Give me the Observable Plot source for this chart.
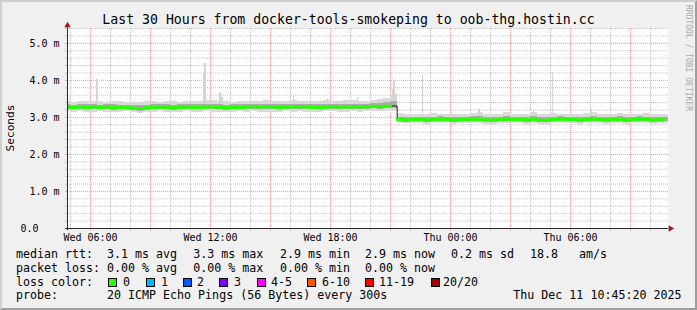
<!DOCTYPE html>
<html><head><meta charset="utf-8">
<script src="https://cdn.jsdelivr.net/npm/d3@7"></script>
<script src="https://cdn.jsdelivr.net/npm/@observablehq/plot@0.6"></script>
<style>
html,body{margin:0;padding:0;background:#f0f0f0;}
#chart{position:relative;width:697px;height:310px;background:#f0f0f0;overflow:hidden;font-family:"DejaVu Sans Mono",monospace;color:#000;}
#chart svg{position:absolute;left:0;top:0;}
.t{position:absolute;white-space:pre;line-height:1;}
.box{position:absolute;width:7px;height:7px;border:1px solid #000;}
#border{position:absolute;left:0;top:0;width:697px;height:310px;box-sizing:border-box;border-style:solid;border-width:2px;border-color:#cfcfcf #9e9e9e #9e9e9e #cfcfcf;pointer-events:none;}
</style></head><body><div id="chart"></div><script>
// ---------- data (ms) ----------
const title = "Last 30 Hours from docker-tools-smokeping to oob-thg.hostin.cc";
const yLabel = "Seconds";
const watermark = "RRDTOOL / TOBI OETIKER";
const seriesStart = "2025-12-10T04:40:00Z"; // samples every 20 minutes
const median = [3.28,
 3.27,3.28,3.27, 3.28,3.27,3.28, 3.26,3.27,3.27, 3.25,3.24,3.26, 3.27,3.28,3.27,
 3.26,3.27,3.28, 3.27,3.27,3.29, 3.28,3.27,3.26, 3.27,3.27,3.28, 3.29,3.28,3.29,
 3.28,3.27,3.28, 3.28,3.29,3.28, 3.27,3.27,3.28, 3.29,3.28,3.28, 3.29,3.28,3.29,
 3.30,3.29,3.30, 3.31,2.94,2.93, 2.94,2.94,2.93, 2.94,2.95,2.94, 2.93,2.94,2.94,
 2.95,2.94,2.93, 2.93,2.94,2.95, 2.94,2.94,2.93, 2.94,2.92,2.93, 2.94,2.95,2.94,
 2.94,2.93,2.94, 2.95,2.94,2.93, 2.94,2.94,2.93, 2.94,2.95,2.94, 2.93,2.94,2.94];
const outerHi = [3.42,
 3.41,3.43,3.42, 3.44,3.42,3.41, 3.43,3.42,3.40, 3.41,3.39,3.42, 3.43,3.41,3.44,
 3.42,3.41,3.43, 3.42,3.44,3.45, 3.46,3.43,3.42, 3.41,3.43,3.42, 3.44,3.43,3.45,
 3.44,3.42,3.43, 3.46,3.44,3.43, 3.42,3.44,3.45, 3.43,3.44,3.46, 3.45,3.43,3.44,
 3.45,3.47,3.50, 3.62,3.10,3.08, 3.09,3.07,3.08, 3.10,3.08,3.07, 3.08,3.09,3.07,
 3.10,3.14,3.08, 3.07,3.09,3.12, 3.08,3.07,3.09, 3.12,3.09,3.08, 3.10,3.08,3.09,
 3.07,3.08,3.10, 3.12,3.09,3.08, 3.09,3.10,3.08, 3.08,3.09,3.10, 3.09,3.08,3.09];
const outerLo = [3.15,
 3.14,3.15,3.13, 3.14,3.15,3.13, 3.14,3.13,3.15, 3.12,3.11,3.13, 3.14,3.15,3.14,
 3.13,3.14,3.15, 3.14,3.13,3.15, 3.14,3.13,3.12, 3.14,3.15,3.14, 3.15,3.14,3.13,
 3.14,3.13,3.15, 3.14,3.15,3.14, 3.13,3.14,3.15, 3.15,3.14,3.14, 3.15,3.14,3.15,
 3.16,3.15,3.16, 3.17,2.84,2.83, 2.84,2.83,2.82, 2.83,2.84,2.83, 2.82,2.83,2.84,
 2.84,2.83,2.82, 2.82,2.83,2.84, 2.83,2.84,2.82, 2.83,2.81,2.82, 2.83,2.84,2.83,
 2.84,2.82,2.83, 2.84,2.83,2.82, 2.83,2.84,2.82, 2.83,2.84,2.83, 2.82,2.83,2.84];
const innerHi = [3.34,
 3.33,3.35,3.34, 3.35,3.33,3.34, 3.34,3.33,3.32, 3.32,3.31,3.33, 3.34,3.35,3.34,
 3.33,3.34,3.35, 3.34,3.35,3.36, 3.35,3.34,3.33, 3.34,3.35,3.34, 3.36,3.35,3.36,
 3.35,3.34,3.35, 3.36,3.36,3.35, 3.34,3.35,3.36, 3.36,3.35,3.36, 3.36,3.35,3.36,
 3.37,3.37,3.39, 3.42,3.01,3.00, 3.01,3.01,3.00, 3.01,3.02,3.01, 3.00,3.01,3.01,
 3.02,3.03,3.00, 3.00,3.01,3.03, 3.01,3.01,3.00, 3.03,2.99,3.00, 3.01,3.02,3.01,
 3.01,3.00,3.01, 3.03,3.01,3.00, 3.01,3.02,3.00, 3.01,3.02,3.01, 3.00,3.01,3.01];
const innerLo = [3.21,
 3.20,3.21,3.20, 3.21,3.20,3.21, 3.19,3.20,3.20, 3.18,3.17,3.19, 3.20,3.21,3.20,
 3.19,3.20,3.21, 3.20,3.20,3.21, 3.21,3.20,3.19, 3.20,3.20,3.21, 3.22,3.21,3.21,
 3.21,3.20,3.21, 3.21,3.22,3.21, 3.20,3.20,3.21, 3.22,3.21,3.21, 3.22,3.21,3.22,
 3.23,3.22,3.23, 3.24,2.88,2.87, 2.88,2.88,2.87, 2.88,2.89,2.88, 2.87,2.88,2.88,
 2.89,2.88,2.87, 2.87,2.88,2.89, 2.88,2.88,2.87, 2.88,2.86,2.87, 2.88,2.89,2.88,
 2.88,2.87,2.88, 2.89,2.88,2.87, 2.88,2.88,2.87, 2.88,2.89,2.88, 2.87,2.88,2.88];
const spikeTimes = ["2025-12-10T06:18:00Z","2025-12-10T11:38:00Z","2025-12-10T11:43:00Z","2025-12-10T12:28:00Z","2025-12-10T12:33:00Z","2025-12-10T16:08:00Z","2025-12-10T17:50:00Z","2025-12-10T19:20:00Z","2025-12-10T21:05:00Z","2025-12-10T21:10:00Z","2025-12-10T22:35:00Z","2025-12-11T01:25:00Z","2025-12-11T04:08:00Z","2025-12-11T05:05:00Z","2025-12-11T07:00:00Z"];
const spikeTops  = [4.03,4.18,4.45,3.67,3.55,3.58,3.50,3.55,3.75,4.00,4.14,3.22,3.22,4.20,3.19];
const spikeBases = [3.30,3.30,3.30,3.30,3.30,3.30,3.30,3.30,3.30,3.30,3.00,3.00,3.00,3.00,3.00];
const xTickLabels = ["2025-12-10T06:00:00Z","2025-12-10T12:00:00Z","2025-12-10T18:00:00Z","2025-12-11T00:00:00Z","2025-12-11T06:00:00Z"];
const yTickLabels = [1,2,3,4,5];
const rttLabel = "median rtt:";
const rttStats = ["3.1 ms avg","3.3 ms max","2.9 ms min","2.9 ms now","0.2 ms sd","18.8","am/s"];
const lossLabel = "packet loss:";
const lossStats = ["0.00 % avg","0.00 % max","0.00 % min","0.00 % now"];
const colorLabel = "loss color:";
const lossNames = ["0","1","2","3","4-5","6-10","11-19","20/20"];
const lossColors = ["#26ff00","#00b8ff","#0059ff","#7e00ff","#ff00ff","#ff5500","#ff0000","#a10000"];
const probeLabel = "probe:";
const probeText = "20 ICMP Echo Pings (56 Bytes) every 300s";
const stampText = "Thu Dec 11 10:45:20 2025";

// ---------- build ----------
const start = new Date(seriesStart);
const times = median.map((_, i) => new Date(+start + i * 20 * 60000));
const rows = times.map((t, i) => ({
  t, t2: new Date(+t + 20 * 60000),
  med: median[i], hi: outerHi[i], lo: outerLo[i], ihi: innerHi[i], ilo: innerLo[i],
  seg: median[i] > 3.1 ? "a" : "b"
}));
const spikes = spikeTimes.map((s, i) => ({t: new Date(s), t2: new Date(+new Date(s) + 5 * 60000), top: spikeTops[i], base: spikeBases[i]}));
const xStart = new Date("2025-12-10T04:51:00Z"), xEnd = new Date("2025-12-11T10:54:00Z");
const hours = d3.utcHour.range(xStart, xEnd);
const xMajor = hours.filter(d => d.getUTCHours() % 3 === 0);
const xMinor = hours.filter(d => d.getUTCHours() % 3 !== 0);
const yAll = d3.range(1, 28).map(k => +(k * 0.2).toFixed(1));
const yMinor = yAll.filter(v => Math.abs(v - Math.round(v)) > 1e-6);
const gridMinor = "#c4c4c4", gridMajor = "#f49a9a", axisColor = "#2a2a2a", arrowColor = "#9a1e1e";

const plot = Plot.plot({
  width: 697, height: 246,
  marginLeft: 67, marginRight: 29, marginTop: 28, marginBottom: 18,
  x: {type: "utc", domain: [xStart, xEnd]},
  y: {domain: [0, 5.4]},
  style: {background: "transparent", fontFamily: "DejaVu Sans Mono", fontSize: "10px", color: "#000", overflow: "visible"},
  marks: [
    Plot.frame({fill: "white", stroke: "none"}),
    Plot.ruleY(yMinor, {stroke: gridMinor, strokeDasharray: "1,1"}),
    Plot.ruleX(xMinor, {stroke: gridMinor, strokeDasharray: "1,1"}),
    Plot.ruleY(yTickLabels, {stroke: gridMajor, strokeDasharray: "1,1"}),
    Plot.ruleX(xMajor, {stroke: gridMajor, strokeDasharray: "1,1"}),
    Plot.rect(rows, {x1: "t", x2: "t2", y1: "lo", y2: "hi", fill: "#d9d9d9", clip: true, shapeRendering: "crispEdges"}),
    Plot.rect(spikes, {x1: "t", x2: "t2", y1: "base", y2: "top", fill: "#d4d4d4", clip: true, shapeRendering: "crispEdges"}),
    Plot.rect(rows, {x1: "t", x2: "t2", y1: "ilo", y2: "ihi", fill: "#ababab", clip: true, shapeRendering: "crispEdges"}),
    Plot.line(rows, {x: "t", y: "med", curve: "step-after", stroke: "#202020", strokeWidth: 1, clip: true}),
    Plot.line(rows, {x: "t", y: "med", z: "seg", curve: "step-after", stroke: "#26ff00", strokeWidth: 3, clip: true}),
    // ticks
    Plot.axisY(yMinor, {tickSize: 2, tickFormat: () => "", stroke: gridMinor}),
    Plot.axisY(yTickLabels, {tickSize: 2, tickPadding: 6, tickFormat: d => d.toFixed(1) + " m", stroke: gridMajor, fill: "#000"}),
    Plot.axisY([0], {tickSize: 2, tickPadding: 27, tickFormat: d => d.toFixed(1), stroke: axisColor, fill: "#000"}),
    Plot.axisX(xMinor, {tickSize: 2, tickFormat: () => "", stroke: gridMinor}),
    Plot.axisX(xMajor.filter(d => d.getUTCHours() % 6 !== 0), {tickSize: 2, tickFormat: () => "", stroke: gridMajor}),
    Plot.axisX(xTickLabels.map(s => new Date(s)), {tickSize: 2, tickPadding: 3, tickFormat: d3.utcFormat("%a %H:%M"), stroke: gridMajor, fill: "#000"}),
    // axis lines
    Plot.ruleY([0], {x1: new Date("2025-12-10T04:45:00Z"), x2: xEnd, stroke: axisColor}),
    Plot.ruleX([xStart], {y1: -0.06, y2: 5.44, stroke: axisColor}),
    // arrows
    Plot.dot([0], {frameAnchor: "top-left", symbol: "triangle", r: 2.4, dy: -3, fill: arrowColor, stroke: "none"}),
    Plot.dot([0], {frameAnchor: "bottom-right", symbol: "triangle", r: 2.4, dx: 2, rotate: 90, fill: arrowColor, stroke: "none"})
  ]
});

const chart = document.getElementById("chart");
chart.appendChild(plot);

function addText(txt, x, top, size, extra) {
  const d = document.createElement("div");
  d.className = "t";
  d.textContent = txt;
  d.style.left = x + "px";
  d.style.top = top + "px";
  d.style.fontSize = size + "px";
  if (extra) Object.assign(d.style, extra);
  chart.appendChild(d);
  return d;
}
// title
addText(title, 0, 12.5, 13.2, {width: "697px", textAlign: "center"});
// y label
addText(yLabel, 10.5, 128, 11.2, {transform: "translate(-50%,-50%) rotate(-90deg)"});
// watermark
addText(watermark, 683.5, 5, 8, {writingMode: "vertical-rl", color: "#a8a8a8"});
// legend
const fs = 11.65;
const line1 = 248.5, line2 = 262.5, line3 = 276.5, line4 = 290.3;
addText(rttLabel, 16, line1, fs);
[107, 193.3, 280, 365, 451, 530, 579].forEach((x, i) => addText(rttStats[i], x, line1, fs));
addText(lossLabel, 16, line2, fs);
[107, 193.3, 280, 365].forEach((x, i) => addText(lossStats[i], x, line2, fs));
addText(colorLabel, 16, line3, fs);
const boxX = [108, 146, 183, 219, 257, 307, 365, 431];
const nameX = [123, 161, 197, 234, 271, 322, 379, 443];
lossNames.forEach((n, i) => {
  const b = document.createElement("div");
  b.className = "box";
  b.style.left = boxX[i] + "px";
  b.style.top = "278px";
  b.style.background = lossColors[i];
  chart.appendChild(b);
  addText(n, nameX[i], line3, fs);
});
addText(probeLabel, 16, line4, fs);
addText(probeText, 107, line4, fs);
addText(stampText, 513.3, line4, fs);
const border = document.createElement("div");
border.id = "border";
chart.appendChild(border);
</script></body></html>
